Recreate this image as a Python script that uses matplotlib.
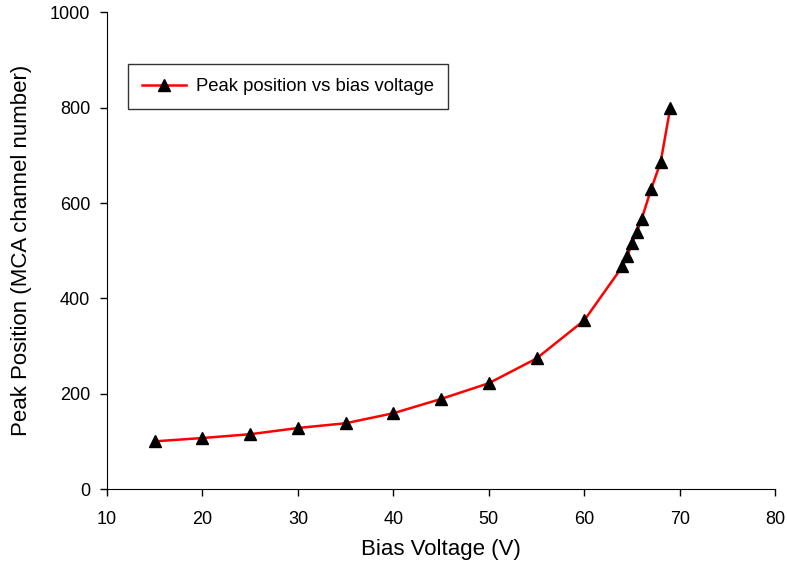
import matplotlib
matplotlib.use("Agg")
import matplotlib.pyplot as plt

bias_voltage = [15, 20, 25, 30, 35, 40, 45, 50, 55, 60, 64, 64.5, 65, 65.5, 66, 67, 68, 69]
peak_position = [100, 107, 115, 128, 138, 159, 189, 222, 274, 354, 467, 488, 516, 539, 566, 629, 686, 799]

x_ticks = [10, 20, 30, 40, 50, 60, 70, 80]
y_ticks = [0, 200, 400, 600, 800, 1000]

plt.rcParams['font.family'] = ['Liberation Sans', 'DejaVu Sans']

fig = plt.figure(figsize=(7.87, 5.77), dpi=100)
ax = fig.add_axes([0.136, 0.1525, 0.849, 0.826])

ax.plot(bias_voltage, peak_position, color='red', linewidth=1.8, marker='^',
        markersize=9, markerfacecolor='black', markeredgecolor='black',
        label='Peak position vs bias voltage')

ax.set_xlim(10, 80)
ax.set_ylim(0, 1000)
ax.set_xticks(x_ticks)
ax.set_yticks(y_ticks)
ax.spines['top'].set_visible(False)
ax.spines['right'].set_visible(False)
ax.tick_params(direction='out', length=5, labelsize=13, width=1)
ax.tick_params(axis='x', pad=11)
ax.tick_params(axis='y', pad=7)
ax.set_xlabel('Bias Voltage (V)', fontsize=16, labelpad=8)
ax.set_ylabel('Peak Position (MCA channel number)', fontsize=16, labelpad=13)

leg = ax.legend(loc='upper left', bbox_to_anchor=(0.031, 0.891), fontsize=13.3,
                frameon=True, fancybox=False, edgecolor='black',
                borderpad=0.75, handlelength=2.4, handletextpad=0.55,
                borderaxespad=0)
leg.get_frame().set_linewidth(1.0)

fig.savefig('out.png', dpi=100)
